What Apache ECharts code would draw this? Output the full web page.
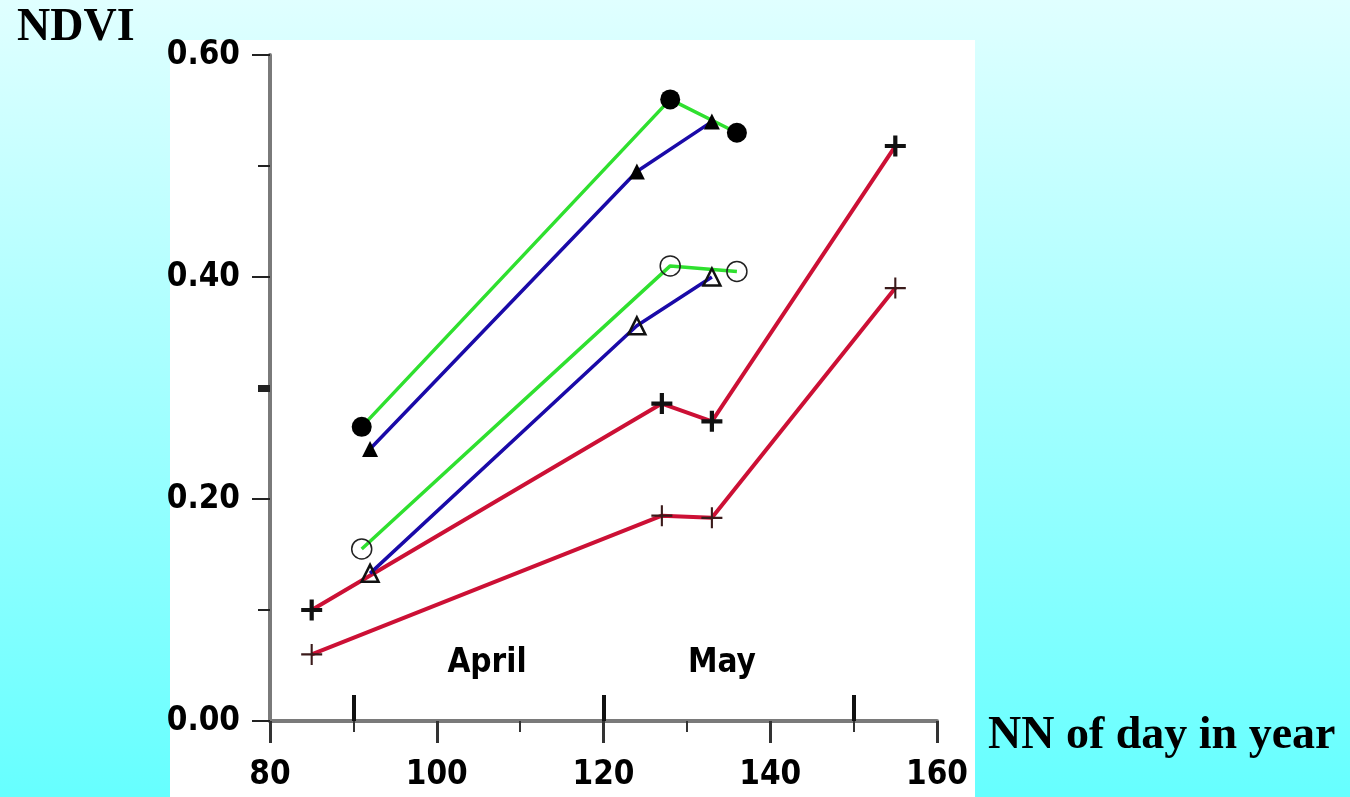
<!DOCTYPE html>
<html>
<head>
<meta charset="utf-8">
<script src="https://cdn.jsdelivr.net/npm/echarts@6/dist/echarts.min.js"></script>
<style>
  html, body { margin: 0; padding: 0; }
  #chart { width: 1350px; height: 797px; }
</style>
</head>
<body>
<div id="chart"></div>
<script>
// day of year for each sampling date
const daysA = [91, 128, 136];
const daysB = [92, 124, 133];
const daysC = [85, 127, 133, 155];

// NDVI values
const greenFilled = [0.265, 0.56, 0.53];
const blueFilled = [0.245, 0.495, 0.54];
const greenOpen = [0.155, 0.41, 0.405];
const blueOpen = [0.133, 0.356, 0.40];
const redThick = [0.10, 0.286, 0.27, 0.518];
const redThin = [0.06, 0.185, 0.183, 0.39];

const monthTicks = [90, 120, 150];
const monthNames = ["April", "May"];

const green = "#2fe02f";
const blue = "#1a0aa8";
const red = "#cc1035";
const plusThick = "path://M4,0H6V4H10V6H6V10H4V6H0V4H4Z";
const plusThin = "path://M4.5,0H5.5V4.5H10V5.5H5.5V10H4.5V5.5H0V4.5H4.5Z";
const narrow = "'DejaVu Sans Condensed', 'Liberation Sans Narrow', sans-serif";
const serif = "'Liberation Serif', 'Times New Roman', serif";

function pairs(xs, ys) {
  return xs.map((x, i) => [x, ys[i]]);
}

function lineSeries(xs, ys, color, width, symbol, size, itemStyle) {
  return {
    type: "line",
    data: pairs(xs, ys),
    symbol: symbol,
    symbolSize: size,
    showAllSymbol: true,
    lineStyle: { color: color, width: width },
    itemStyle: itemStyle,
    emphasis: { disabled: true },
    z: 3,
  };
}

const chart = echarts.init(document.getElementById("chart"));
chart.setOption({
  animation: false,
  backgroundColor: {
    type: "linear", x: 0, y: 0, x2: 0, y2: 1,
    colorStops: [
      { offset: 0, color: "#e0ffff" },
      { offset: 1, color: "#66ffff" },
    ],
  },
  grid: { left: 270, right: 413, top: 55, bottom: 76 },
  xAxis: [
    {
      type: "value",
      min: 80,
      max: 160,
      interval: 20,
      splitLine: { show: false },
      axisLine: { lineStyle: { color: "#7a7a7a", width: 4 } },
      axisTick: { length: 22, lineStyle: { color: "#333", width: 3 } },
      minorTick: { show: true, splitNumber: 2, length: 11, lineStyle: { color: "#333", width: 2 } },
      axisLabel: { fontSize: 33, fontFamily: narrow, fontWeight: "bold", color: "#000", margin: 38 },
    },
    {
      type: "value",
      min: 80,
      max: 160,
      position: "bottom",
      splitLine: { show: false },
      axisLine: { show: false },
      axisLabel: { show: false },
      axisTick: {
        show: true,
        inside: true,
        length: 26,
        customValues: monthTicks,
        lineStyle: { color: "#111", width: 4 },
      },
    },
  ],
  yAxis: [
    {
      type: "value",
      min: 0,
      max: 0.6,
      interval: 0.2,
      splitLine: { show: false },
      axisLine: { lineStyle: { color: "#7a7a7a", width: 4 } },
      axisTick: { length: 18, lineStyle: { color: "#222", width: 2 } },
      minorTick: { show: true, splitNumber: 2, length: 12, lineStyle: { color: "#222", width: 2 } },
      axisLabel: {
        fontSize: 33, fontFamily: narrow, fontWeight: "bold", color: "#000", margin: 30,
        formatter: (v) => v.toFixed(2),
      },
    },
    {
      type: "value",
      min: 0,
      max: 0.6,
      position: "left",
      splitLine: { show: false },
      axisLine: { show: false },
      axisLabel: { show: false },
      axisTick: {
        show: true,
        length: 12,
        customValues: [0.3],
        lineStyle: { color: "#222", width: 7 },
      },
    },
  ],
  graphic: [
    {
      type: "rect",
      shape: { x: 170, y: 40, width: 805, height: 757 },
      style: { fill: "#fff" },
      z: -10,
    },
    {
      type: "text", x: 17, y: 28,
      style: { text: "NDVI", font: "bold 46px " + serif, fill: "#000", verticalAlign: "middle" },
    },
    {
      type: "text", x: 988, y: 736,
      style: { text: "NN of day in year", font: "bold 46px " + serif, fill: "#000", verticalAlign: "middle" },
    },
    {
      type: "text", x: 487, y: 663,
      style: { text: monthNames[0], font: "bold 33px " + narrow, fill: "#000", align: "center", verticalAlign: "middle" },
    },
    {
      type: "text", x: 722, y: 663,
      style: { text: monthNames[1], font: "bold 33px " + narrow, fill: "#000", align: "center", verticalAlign: "middle" },
    },
  ],
  series: [
    lineSeries(daysC, redThin, red, 4, plusThin, 21, { color: "#3a1a1a" }),
    lineSeries(daysC, redThick, red, 4, plusThick, 21, { color: "#111" }),
    lineSeries(daysB, blueOpen, blue, 3.5, "triangle", 17, { color: "rgba(0,0,0,0)", borderColor: "#111", borderWidth: 2.5 }),
    lineSeries(daysA, greenOpen, green, 3.5, "circle", 20, { color: "rgba(0,0,0,0)", borderColor: "#222", borderWidth: 1.5 }),
    lineSeries(daysB, blueFilled, blue, 3.5, "triangle", 16, { color: "#000" }),
    lineSeries(daysA, greenFilled, green, 3.5, "circle", 20, { color: "#000" }),
  ],
});
</script>
</body>
</html>
